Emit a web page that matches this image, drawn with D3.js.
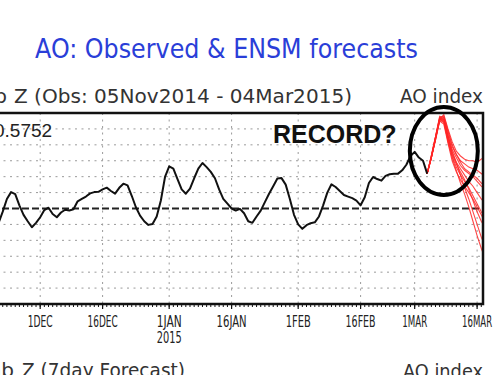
<!DOCTYPE html>
<html>
<head>
<meta charset="utf-8">
<script src="https://cdn.jsdelivr.net/npm/d3@7"></script>
<style>
  body { margin: 0; background: #fff; }
  svg { display: block; }
</style>
</head>
<body>
<div id="chart"></div>
<script>
// observed AO index (daily)
const observed = [
  ["2014-11-05", -0.4], ["2014-11-08", -1.6], ["2014-11-11", -2.2], ["2014-11-14", -1.1],
  ["2014-11-17", -0.6], ["2014-11-20", -1.3], ["2014-11-21", -0.9], ["2014-11-22", -0.2],
  ["2014-11-23", 0.6], ["2014-11-24", 1.03], ["2014-11-25", 0.9], ["2014-11-26", 0.2],
  ["2014-11-27", -0.4], ["2014-11-28", -0.8], ["2014-11-29", -1.18], ["2014-11-30", -0.9],
  ["2014-12-01", -0.55], ["2014-12-02", -0.1], ["2014-12-03", 0.05], ["2014-12-04", -0.35],
  ["2014-12-05", -0.55], ["2014-12-06", -0.25], ["2014-12-07", -0.08], ["2014-12-08", -0.12],
  ["2014-12-09", -0.05], ["2014-12-10", 0.45], ["2014-12-11", 0.6], ["2014-12-12", 0.75],
  ["2014-12-13", 0.95], ["2014-12-14", 1.03], ["2014-12-15", 1.05], ["2014-12-16", 1.2],
  ["2014-12-17", 1.31], ["2014-12-18", 1.1], ["2014-12-19", 0.93], ["2014-12-20", 1.3],
  ["2014-12-21", 1.56], ["2014-12-22", 1.45], ["2014-12-23", 0.8], ["2014-12-24", 0.08],
  ["2014-12-25", -0.45], ["2014-12-26", -0.8], ["2014-12-27", -1.03], ["2014-12-28", -0.97],
  ["2014-12-29", -0.5], ["2014-12-30", 0.5], ["2014-12-31", 1.98], ["2015-01-01", 2.65],
  ["2015-01-02", 2.51], ["2015-01-03", 1.85], ["2015-01-04", 1.2], ["2015-01-05", 0.93],
  ["2015-01-06", 1.25], ["2015-01-07", 1.9], ["2015-01-08", 2.5], ["2015-01-09", 2.86],
  ["2015-01-10", 2.6], ["2015-01-11", 2.3], ["2015-01-12", 1.9], ["2015-01-13", 1.2],
  ["2015-01-14", 0.61], ["2015-01-15", 0.3], ["2015-01-16", 0.0], ["2015-01-17", -0.13],
  ["2015-01-18", -0.02], ["2015-01-19", -0.3], ["2015-01-20", -0.8], ["2015-01-21", -0.9],
  ["2015-01-22", -0.5], ["2015-01-23", -0.13], ["2015-01-24", 0.4], ["2015-01-25", 0.93],
  ["2015-01-26", 1.4], ["2015-01-27", 1.88], ["2015-01-28", 1.91], ["2015-01-29", 1.5],
  ["2015-01-30", 0.6], ["2015-01-31", -0.4], ["2015-02-01", -1.0], ["2015-02-02", -1.28],
  ["2015-02-03", -1.05], ["2015-02-04", -0.92], ["2015-02-05", -0.87], ["2015-02-06", -0.5],
  ["2015-02-07", 0.2], ["2015-02-08", 1.0], ["2015-02-09", 1.52], ["2015-02-10", 1.35],
  ["2015-02-11", 1.1], ["2015-02-12", 0.85], ["2015-02-13", 0.75], ["2015-02-14", 0.65],
  ["2015-02-15", 0.5], ["2015-02-16", 0.2], ["2015-02-17", 0.71], ["2015-02-18", 1.6],
  ["2015-02-19", 1.98], ["2015-02-20", 1.85], ["2015-02-21", 1.75], ["2015-02-22", 2.05],
  ["2015-02-23", 2.15], ["2015-02-24", 2.19], ["2015-02-25", 2.19], ["2015-02-26", 2.4],
  ["2015-02-27", 2.75], ["2015-02-28", 3.3], ["2015-03-01", 3.56], ["2015-03-02", 3.2],
  ["2015-03-03", 3.0], ["2015-03-04", 2.19]
];

// ensemble forecast dates and members
const fcstDates = ["2015-03-04", "2015-03-05", "2015-03-06", "2015-03-07", "2015-03-08",
  "2015-03-09", "2015-03-10", "2015-03-11", "2015-03-12", "2015-03-13", "2015-03-14",
  "2015-03-15", "2015-03-16", "2015-03-17", "2015-03-18"];
const members = [
  [2.19, 3.2, 4.4, 5.6, 5.9, 5.0, 4.2, 3.6, 3.3, 3.1, 3.0, 3.0, 2.9, 3.1, 3.3],
  [2.19, 3.2, 4.4, 5.6, 5.7, 4.8, 3.9, 3.4, 3.0, 2.8, 2.6, 2.5, 2.4, 2.2, 2.0],
  [2.19, 3.3, 4.5, 5.7, 5.6, 4.6, 3.7, 3.2, 2.7, 2.4, 2.2, 2.0, 1.7, 1.4, 1.2],
  [2.19, 3.2, 4.3, 5.5, 5.5, 4.5, 3.5, 2.9, 2.5, 2.1, 1.7, 1.4, 1.0, 0.6, 0.3],
  [2.19, 3.2, 4.4, 5.6, 5.4, 4.3, 3.3, 2.6, 2.1, 1.7, 1.3, 0.8, 0.3, -0.2, -0.6],
  [2.19, 3.2, 4.4, 5.6, 5.6, 4.4, 3.4, 2.8, 2.3, 1.8, 1.2, 0.5, -0.2, -0.8, -1.2],
  [2.19, 3.3, 4.5, 5.8, 5.7, 4.6, 3.6, 2.9, 2.1, 1.3, 0.6, -0.2, -1.0, -1.8, -2.4],
  [2.19, 3.2, 4.4, 5.6, 5.5, 4.2, 3.2, 2.4, 1.6, 0.9, 0.1, -0.8, -1.7, -2.5, -3.2],
  [2.19, 3.2, 4.3, 5.5, 5.3, 4.1, 3.0, 2.3, 1.8, 1.4, 1.0, 0.6, 0.1, -0.4, -0.9],
  [2.19, 3.3, 4.5, 5.7, 5.8, 4.9, 4.0, 3.4, 2.9, 2.5, 2.3, 2.1, 1.9, 1.6, 1.4]
];

const tickDates = ["2014-12-01", "2014-12-16", "2015-01-01", "2015-01-16",
  "2015-02-01", "2015-02-16", "2015-03-01", "2015-03-16"];
const tickLabels = ["1DEC", "16DEC", "1JAN", "16JAN", "1FEB", "16FEB", "1MAR", "16MAR"];
const yearLabels = ["", "", "2015", "", "", "", "", ""];
const yTicks = [-5, -4, -3, -2, -1, 1, 2, 3, 4, 5];

const W = 500, H = 375;
const plot = { left: -68, right: 483, top: 113, bottom: 304 };
const parse = d3.utcParse("%Y-%m-%d");

const svg = d3.select("#chart")
  .append("svg")
  .attr("width", W)
  .attr("height", H);

const x = d3.scaleUtc()
  .domain([parse("2014-11-05"), new Date(Date.UTC(2015, 2, 17, 10))])
  .range([plot.left, plot.right]);
const y = d3.scaleLinear().domain([-6, 6]).range([plot.bottom, plot.top]);

const txt = "#333";
const sans = "'DejaVu Sans', sans-serif";

// title
svg.append("text")
  .attr("x", 35).attr("y", 58)
  .attr("font-family", sans).attr("font-size", 27)
  .attr("fill", "#2a3ed8")
  .attr("textLength", 383).attr("lengthAdjust", "spacingAndGlyphs")
  .text("AO: Observed & ENSM forecasts");

// upper sub-header
svg.append("text")
  .attr("x", 7).attr("y", 103).attr("text-anchor", "end")
  .attr("font-family", sans).attr("font-size", 20).attr("fill", txt)
  .text("1000mb");
svg.append("text")
  .attr("x", 14).attr("y", 103)
  .attr("font-family", sans).attr("font-size", 20).attr("fill", txt)
  .attr("textLength", 338).attr("lengthAdjust", "spacingAndGlyphs")
  .text("Z (Obs: 05Nov2014 - 04Mar2015)");
svg.append("text")
  .attr("x", 400).attr("y", 103)
  .attr("font-family", sans).attr("font-size", 20).attr("fill", txt)
  .attr("textLength", 83).attr("lengthAdjust", "spacingAndGlyphs")
  .text("AO index");

// lower sub-header (next panel, cut off)
svg.append("text")
  .attr("x", 14).attr("y", 377).attr("text-anchor", "end")
  .attr("font-family", sans).attr("font-size", 20).attr("fill", txt)
  .text("1000mb");
svg.append("text")
  .attr("x", 22).attr("y", 377)
  .attr("font-family", sans).attr("font-size", 20).attr("fill", txt)
  .attr("textLength", 163).attr("lengthAdjust", "spacingAndGlyphs")
  .text("Z (7day Forecast)");
svg.append("text")
  .attr("x", 403).attr("y", 378)
  .attr("font-family", sans).attr("font-size", 20).attr("fill", txt)
  .attr("textLength", 80).attr("lengthAdjust", "spacingAndGlyphs")
  .text("AO index");

svg.append("clipPath").attr("id", "clip")
  .append("rect")
  .attr("x", plot.left).attr("y", plot.top)
  .attr("width", plot.right - plot.left).attr("height", plot.bottom - plot.top);

// dotted grid
svg.append("g")
  .selectAll("line")
  .data(yTicks)
  .join("line")
  .attr("x1", plot.left).attr("x2", plot.right)
  .attr("y1", d => y(d)).attr("y2", d => y(d))
  .attr("stroke", "#9a9a9a").attr("stroke-width", 1)
  .attr("stroke-dasharray", "2,4.5");

svg.append("g")
  .selectAll("line")
  .data(tickDates)
  .join("line")
  .attr("x1", d => x(parse(d))).attr("x2", d => x(parse(d)))
  .attr("y1", plot.top).attr("y2", plot.bottom)
  .attr("stroke", "#9a9a9a").attr("stroke-width", 1)
  .attr("stroke-dasharray", "2,4.5");

// zero line
svg.append("line")
  .attr("x1", plot.left).attr("x2", plot.right)
  .attr("y1", y(0)).attr("y2", y(0))
  .attr("stroke", "#222").attr("stroke-width", 2)
  .attr("stroke-dasharray", "7,3");

const line = d3.line()
  .x(d => x(d[0]))
  .y(d => y(d[1]));

// forecasts
const fDates = fcstDates.map(parse);
svg.append("g")
  .attr("clip-path", "url(#clip)")
  .selectAll("path")
  .data(members)
  .join("path")
  .attr("d", m => line(m.map((v, i) => [fDates[i], v])))
  .attr("fill", "none")
  .attr("stroke", "#ff2626")
  .attr("stroke-opacity", 0.85)
  .attr("stroke-width", 1.1);

// observed
svg.append("path")
  .datum(observed.map(d => [parse(d[0]), d[1]]))
  .attr("clip-path", "url(#clip)")
  .attr("d", line)
  .attr("fill", "none")
  .attr("stroke", "#111")
  .attr("stroke-width", 2)
  .attr("stroke-linejoin", "round");

// frame
svg.append("rect")
  .attr("x", plot.left).attr("y", plot.top)
  .attr("width", plot.right - plot.left).attr("height", plot.bottom - plot.top)
  .attr("fill", "none").attr("stroke", "#111").attr("stroke-width", 2.5);

// x axis ticks: daily minor, labelled major
const xAxis = svg.append("g").attr("transform", `translate(0,${plot.bottom})`);
xAxis.selectAll(".minor")
  .data(d3.utcDay.range(parse("2014-11-05"), parse("2015-03-18")))
  .join("line")
  .attr("x1", d => x(d)).attr("x2", d => x(d))
  .attr("y1", 0).attr("y2", 3)
  .attr("stroke", "#111").attr("stroke-width", 1);
xAxis.selectAll(".major")
  .data(tickDates)
  .join("line")
  .attr("x1", d => x(parse(d))).attr("x2", d => x(parse(d)))
  .attr("y1", 0).attr("y2", 5)
  .attr("stroke", "#111").attr("stroke-width", 1.2);

const labels = xAxis.selectAll("text")
  .data(tickLabels)
  .join("text")
  .attr("text-anchor", "middle")
  .attr("font-family", sans).attr("font-size", 15).attr("fill", "#222");
labels.append("tspan")
  .attr("x", (d, i) => x(parse(tickDates[i])))
  .attr("y", 23)
  .attr("textLength", d => d.length > 4 ? 30 : 25)
  .attr("lengthAdjust", "spacingAndGlyphs")
  .text(d => d);
labels.filter((d, i) => yearLabels[i])
  .append("tspan")
  .attr("x", (d, i) => x(parse(tickDates[tickLabels.indexOf(d)])))
  .attr("y", 39)
  .attr("textLength", 25)
  .attr("lengthAdjust", "spacingAndGlyphs")
  .text(d => yearLabels[tickLabels.indexOf(d)]);

// value in the top-left corner
svg.append("text")
  .attr("x", -6).attr("y", 137)
  .attr("font-family", "'Liberation Sans', Arial, sans-serif")
  .attr("font-size", 19).attr("fill", "#222")
  .text("0.5752");

// annotation
svg.append("text")
  .attr("x", 273).attr("y", 143)
  .attr("font-family", "'Liberation Sans', Arial, sans-serif")
  .attr("font-size", 25).attr("font-weight", "bold").attr("fill", "#111")
  .text("RECORD?");

svg.append("ellipse")
  .attr("cx", x(parse("2015-03-08"))).attr("cy", 151)
  .attr("rx", 34).attr("ry", 44)
  .attr("fill", "none").attr("stroke", "#000").attr("stroke-width", 4);
</script>
</body>
</html>
